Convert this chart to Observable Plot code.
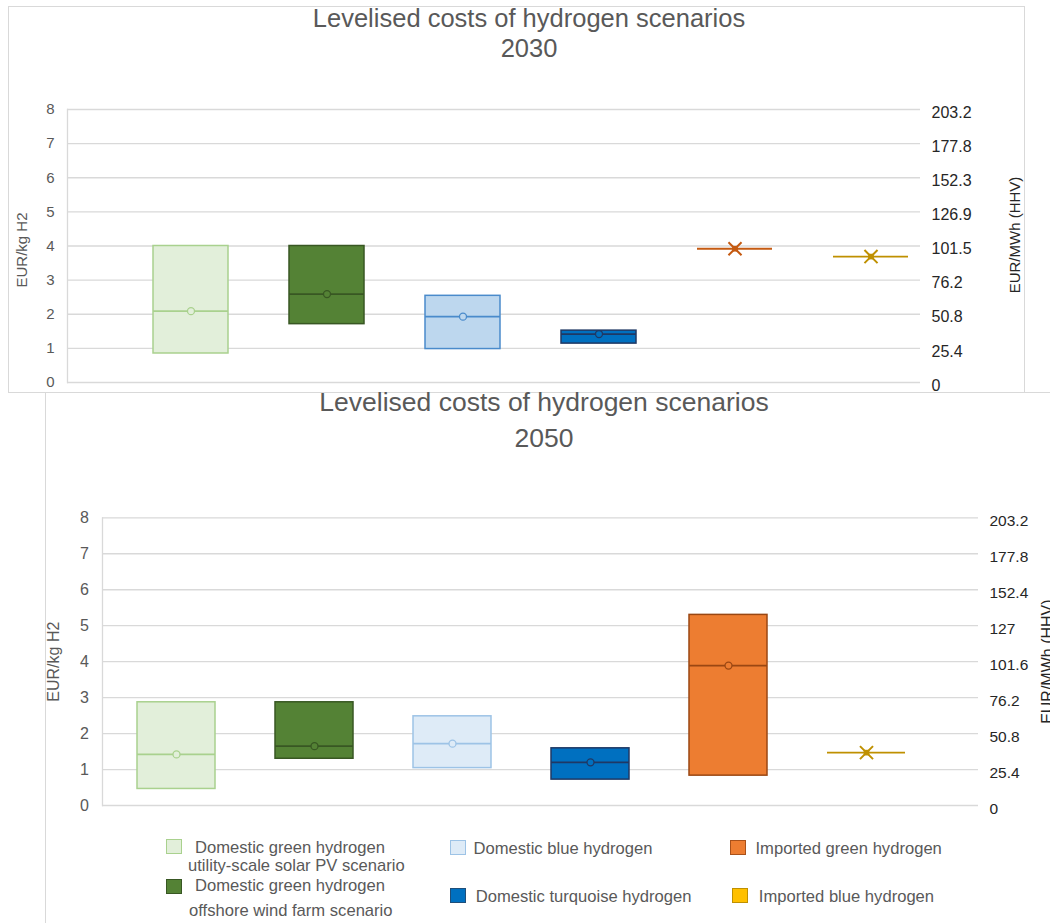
<!DOCTYPE html>
<html>
<head>
<meta charset="utf-8">
<script src="https://cdn.jsdelivr.net/npm/d3@7"></script>
<script src="https://cdn.jsdelivr.net/npm/@observablehq/plot@0.6"></script>
<style>
  html, body { margin: 0; padding: 0; overflow: hidden; background: #fff; }
  #page { position: relative; width: 1050px; height: 923px; overflow: hidden; font-family: "Liberation Sans", Arial, sans-serif; }
  .frame { position: absolute; background: #fff; border: 1px solid #d9d9d9; box-sizing: border-box; }
  .title { position: absolute; left: 0; text-align: center; color: #595959; white-space: nowrap; }
  .plot { position: absolute; left: 0; }
  .sw { position: absolute; box-sizing: border-box; border: 1.5px solid; }
  .lg { position: absolute; font-size: 16.6px; line-height: 16px; color: #595959; white-space: nowrap; }
</style>
</head>
<body>
<div id="page"></div>
<script>
// ---------- data ----------
const categories = [
  "Domestic green hydrogen utility-scale solar PV scenario",
  "Domestic green hydrogen offshore wind farm scenario",
  "Domestic blue hydrogen",
  "Domestic turquoise hydrogen",
  "Imported green hydrogen",
  "Imported blue hydrogen"
];
// EUR/kg H2 — 2030
const low2030  = [0.85, 1.71, 0.98, 1.14, null, null];
const high2030 = [4.00, 4.00, 2.54, 1.52, null, null];
const mid2030  = [2.09, 2.59, 1.93, 1.42, 3.92, 3.69];
// EUR/kg H2 — 2050
const low2050  = [0.46, 1.30, 1.04, 0.72, 0.83, null];
const high2050 = [2.87, 2.87, 2.48, 1.59, 5.30, null];
const mid2050  = [1.42, 1.65, 1.72, 1.20, 3.89, 1.47];

const yTicks = [0, 1, 2, 3, 4, 5, 6, 7, 8];
const mwhLabels2030 = ["0", "25.4", "50.8", "76.2", "101.5", "126.9", "152.3", "177.8", "203.2"];
const mwhLabels2050 = ["0", "25.4", "50.8", "76.2", "101.6", "127", "152.4", "177.8", "203.2"];

const titleLine = "Levelised costs of hydrogen scenarios";
const years = ["2030", "2050"];
const yLabel = "EUR/kg H2";
const y2Label = "EUR/MWh (HHV)";

// ---------- styles ----------
const fills2030   = ["#e2efda", "#548235", "#bdd7ee", "#0070c0", "#c55a11", "#bf9000"];
const strokes2030 = ["#a9d18e", "#385723", "#4a8bcb", "#1f3864", "#c55a11", "#bf9000"];
const fills2050   = ["#e2efda", "#548235", "#deebf7", "#0070c0", "#ed7d31", "#bf9000"];
const strokes2050 = ["#a9d18e", "#385723", "#9dc3e6", "#1f3864", "#9a4713", "#bf9000"];
const legendFills   = ["#e2efda", "#548235", "#deebf7", "#0070c0", "#ed7d31", "#ffc000"];
const legendStrokes = ["#a9d18e", "#385723", "#9dc3e6", "#1f4e79", "#a9511a", "#bf9000"];

const page = document.getElementById("page");
function el(cls, css, html) {
  const d = document.createElement("div");
  d.className = cls;
  Object.assign(d.style, css);
  if (html != null) d.innerHTML = html;
  page.appendChild(d);
  return d;
}

function rows(low, high, mid, fills, strokes) {
  return categories.map((c, i) => ({cat: c, low: low[i], high: high[i], mid: mid[i], fill: fills[i], stroke: strokes[i]}));
}

function chart(o) {
  const data = rows(o.low, o.high, o.mid, o.fills, o.strokes);
  const boxes = data.filter(d => d.low != null);
  const lines = data.filter(d => d.low == null);
  return Plot.plot({
    width: o.width, height: o.height,
    marginLeft: o.ml, marginRight: o.mr, marginTop: o.mt, marginBottom: o.mb,
    style: {fontFamily: '"Liberation Sans", Arial, sans-serif', background: "transparent", overflow: "visible"},
    x: {type: "band", domain: categories, paddingInner: o.pi, paddingOuter: o.po, align: o.align, axis: null},
    y: {domain: [0, 8]},
    marks: [
      Plot.ruleY(yTicks, {stroke: "#d9d9d9", strokeWidth: 1.3}),
      Plot.frame({anchor: "left", stroke: "#d9d9d9", strokeWidth: 1.3}),
      Plot.barY(boxes, {x: "cat", y1: "low", y2: "high", fill: "fill", stroke: "stroke", strokeWidth: 1.5}),
      Plot.tickY(data, {x: "cat", y: "mid", stroke: "stroke", strokeWidth: 1.8}),
      Plot.dot(boxes, {x: "cat", y: "mid", r: 3.5, fill: "fill", stroke: "stroke", strokeWidth: 1.3}),
      Plot.dot(lines, {x: "cat", y: "mid", symbol: "times", r: 6, stroke: "stroke", strokeWidth: 2}),
      Plot.dot(lines, {x: "cat", y: "mid", symbol: "square", r: 3.2, fill: "stroke"}),
      Plot.axisY(yTicks, {anchor: "left", tickSize: 0, tickPadding: o.tpl, fontSize: o.fsl, fill: "#595959", label: null}),
      Plot.axisY(yTicks, {anchor: "right", tickSize: 0, tickPadding: 11, fontSize: o.fsr, fill: "#262626", label: null,
        tickFormat: i => o.mwh[i], dy: o.rdy}),
      Plot.text([yLabel], {text: d => d, frameAnchor: "left", textAnchor: "middle", rotate: -90, dx: o.ldx, dy: o.ldy, fontSize: o.fsl, fill: "#595959"}),
      Plot.text([y2Label], {text: d => d, frameAnchor: "right", textAnchor: "middle", rotate: -90, dx: o.rdx, dy: o.rlabdy, fontSize: o.fst, fill: "#262626"})
    ]
  });
}

// ----- top chart (2030) -----
el("frame", {left: "8px", top: "6px", width: "1017px", height: "387px"});
el("title", {top: "3px", width: "1058px", fontSize: "25.5px", lineHeight: "30px"}, titleLine + "<br>" + years[0]);
const chart2030 = chart({
  low: low2030, high: high2030, mid: mid2030, fills: fills2030, strokes: strokes2030, mwh: mwhLabels2030,
  width: 1050, height: 300, ml: 67, mr: 130, mt: 14, mb: 13,
  pi: 0.445, po: 0.338, align: 0.88,
  tpl: 13, fsl: 15, fsr: 16, fst: 15, rdy: 3,
  ldx: -45, ldy: 4, rdx: 95, rlabdy: -11
});
chart2030.classList.add("plot");
chart2030.style.top = "95px";
page.appendChild(chart2030);

// ----- bottom chart (2050) -----
el("frame", {left: "45px", top: "392px", width: "1100px", height: "600px"});
el("title", {top: "383.5px", width: "1088px", fontSize: "26.5px", lineHeight: "36px"}, titleLine + "<br>" + years[1]);
const chart2050 = chart({
  low: low2050, high: high2050, mid: mid2050, fills: fills2050, strokes: strokes2050, mwh: mwhLabels2050,
  width: 1050, height: 320, ml: 102, mr: 72, mt: 17.3, mb: 15,
  pi: 0.435, po: 0.389, align: 0.327,
  tpl: 13.5, fsl: 16, fsr: 15.5, fst: 16, rdy: 3.5,
  ldx: -49, ldy: 0, rdx: 69, rlabdy: 0
});
chart2050.classList.add("plot");
chart2050.style.top = "500px";
page.appendChild(chart2050);

// ----- legend -----
const legendLayout = [
  {sx: 166, sy: 839, lines: [[195, 853.5], [188, 871.5]]},
  {sx: 166, sy: 879, lines: [[195, 892], [189, 917]]},
  {sx: 450, sy: 840, lines: [[473.5, 855]]},
  {sx: 450, sy: 888, lines: [[475.7, 903]]},
  {sx: 730, sy: 840, lines: [[755.5, 855]]},
  {sx: 732, sy: 888, lines: [[758.8, 903]]}
];
categories.forEach((c, i) => {
  const L = legendLayout[i];
  el("sw", {left: L.sx + "px", top: L.sy + "px", width: "16px", height: "15px", background: legendFills[i], borderColor: legendStrokes[i]});
  const parts = L.lines.length === 2 ? c.replace("hydrogen ", "hydrogen\n").split("\n") : [c];
  parts.forEach((t, k) => {
    el("lg", {left: L.lines[k][0] + "px", top: (L.lines[k][1] - 13.7) + "px"}).textContent = t;
  });
});
</script>
</body>
</html>
